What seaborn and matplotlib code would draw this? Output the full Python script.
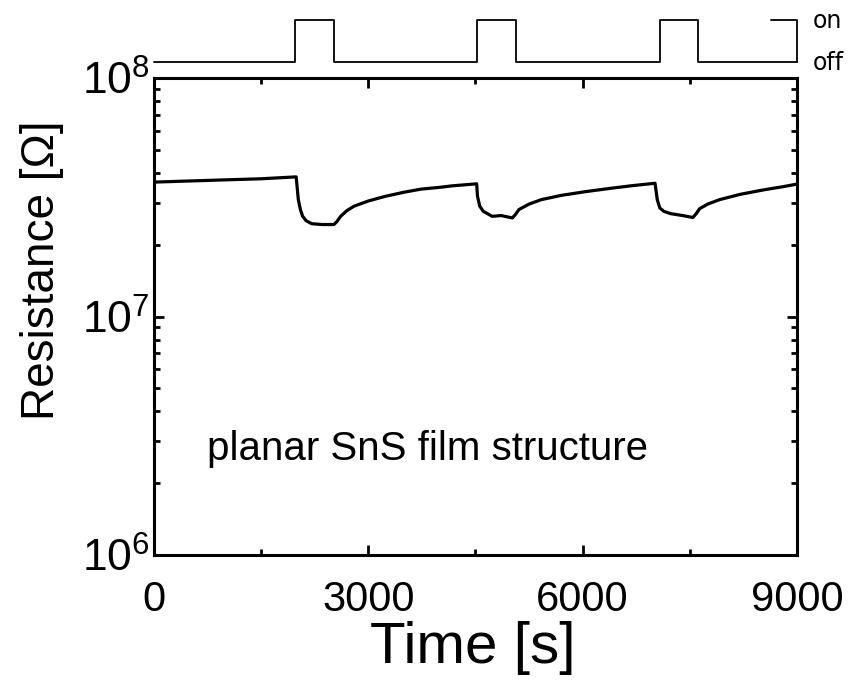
import matplotlib
matplotlib.use("Agg")
import matplotlib.pyplot as plt
import seaborn as sns
import numpy as np
import pandas as pd
from matplotlib.ticker import LogLocator, FixedLocator, FuncFormatter, NullFormatter

# ---- data ----
time_s = [0, 500, 990, 1500, 1990, 2020, 2050, 2081, 2130, 2206, 2350, 2518,
          2560, 2612, 2700, 2800, 3000, 3236, 3500, 3736, 4000, 4172, 4516,
          4528, 4560, 4609, 4734, 4858, 5016, 5060, 5109, 5250, 5421, 5700,
          6045, 6400, 6670, 7013, 7044, 7080, 7137, 7230, 7400, 7542, 7590,
          7636, 7750, 7917, 8200, 8542, 8800, 9000]
resistance_e7 = [3.66, 3.70, 3.74, 3.78, 3.85, 3.09, 2.80, 2.63, 2.52, 2.45, 2.43, 2.43,
                 2.50, 2.63, 2.78, 2.90, 3.05, 3.19, 3.32, 3.42, 3.48, 3.53, 3.60,
                 3.19, 2.90, 2.76, 2.63, 2.65, 2.59, 2.68, 2.81, 2.96, 3.09, 3.22,
                 3.34, 3.45, 3.53, 3.62, 3.09, 2.85, 2.76, 2.70, 2.65, 2.60, 2.70,
                 2.83, 2.96, 3.09, 3.25, 3.40, 3.50, 3.59]

pulse_t = [0, 1975, 1975, 2520, 2520, 4520, 4520, 5060, 5060, 7080, 7080, 7620, 7620, 9000]
pulse_state = [0, 0, 1, 1, 0, 0, 1, 1, 0, 0, 1, 1, 0, 0]
bracket_t = [8640, 9000, 9000]
bracket_state = [1, 1, 0]

x_ticks = [0, 3000, 6000, 9000]
y_ticks = [1e6, 1e7, 1e8]

sns.set_theme(style="ticks")
plt.rcParams["font.family"] = ["Liberation Sans", "DejaVu Sans"]
plt.rcParams["mathtext.fontset"] = "custom"
plt.rcParams["mathtext.rm"] = "Liberation Sans"
plt.rcParams["mathtext.it"] = "Liberation Sans:italic"
plt.rcParams["text.color"] = "black"
plt.rcParams["axes.labelcolor"] = "black"
plt.rcParams["xtick.color"] = "black"
plt.rcParams["ytick.color"] = "black"

fig = plt.figure(figsize=(8.52, 6.84), dpi=100)
ax = fig.add_axes([154/852, 1-555/684, (797-154)/852, (555-78)/684])

df = pd.DataFrame({"Time": time_s, "R": np.array(resistance_e7) * 1e7})
sns.lineplot(data=df, x="Time", y="R", ax=ax, color="black", linewidth=2.3,
             estimator=None, sort=False)

ax.set_yscale("log")
ax.set_xlim(0, 9000)
ax.set_ylim(1e6, 1e8)
ax.xaxis.set_major_locator(FixedLocator(x_ticks))
ax.xaxis.set_minor_locator(FixedLocator([1500, 4500, 7500]))
ax.yaxis.set_major_locator(FixedLocator(y_ticks))
ax.yaxis.set_minor_locator(LogLocator(base=10, subs=np.arange(2, 10)))
ax.yaxis.set_minor_formatter(NullFormatter())
ax.yaxis.set_major_formatter(FuncFormatter(lambda v, p: r"$\mathregular{10^{%d}}$" % int(round(np.log10(v)))))
ax.xaxis.set_major_formatter(FuncFormatter(lambda v, p: "%d" % v))

for s in ax.spines.values():
    s.set_visible(True)
    s.set_linewidth(2.2)
    s.set_color("black")
ax.tick_params(which="both", direction="in", top=True, right=True, color="black", width=2.0)
ax.tick_params(which="major", length=7)
ax.tick_params(which="minor", length=4)
ax.tick_params(axis="x", which="major", pad=18, labelsize=30)
ax.tick_params(axis="y", which="major", pad=3, labelsize=32)

ax.set_xlabel("Time [s]", fontsize=42)
ax.set_ylabel("Resistance [Ω]", fontsize=33)
ax.xaxis.set_label_coords(0.495, -0.138)
ax.yaxis.set_label_coords(-0.14, 0.597)

ax.text(0.083, 0.2, "planar SnS film structure", transform=ax.transAxes,
        fontsize=29, ha="left", va="baseline")

# pulse trace above the plot
axp = fig.add_axes([154/852, 1-62/684, (797-154)/852, (62-20)/684])
pdf = pd.DataFrame({"t": pulse_t, "s": pulse_state})
bdf = pd.DataFrame({"t": bracket_t, "s": bracket_state})
sns.lineplot(data=pdf, x="t", y="s", ax=axp, color="black", linewidth=1.3,
             estimator=None, sort=False)
sns.lineplot(data=bdf, x="t", y="s", ax=axp, color="black", linewidth=1.3,
             estimator=None, sort=False)
axp.set_xlim(0, 9000)
axp.set_ylim(0, 1)
axp.axis("off")
for ln in axp.lines:
    ln.set_clip_on(False)

fig.text(813/852, 1-21/684, "on", fontsize=17, ha="left", va="center", family=["DejaVu Sans"])
fig.text(813/852, 1-63/684, "off", fontsize=17, ha="left", va="center", family=["DejaVu Sans"])

fig.savefig("out.png", dpi=100)
